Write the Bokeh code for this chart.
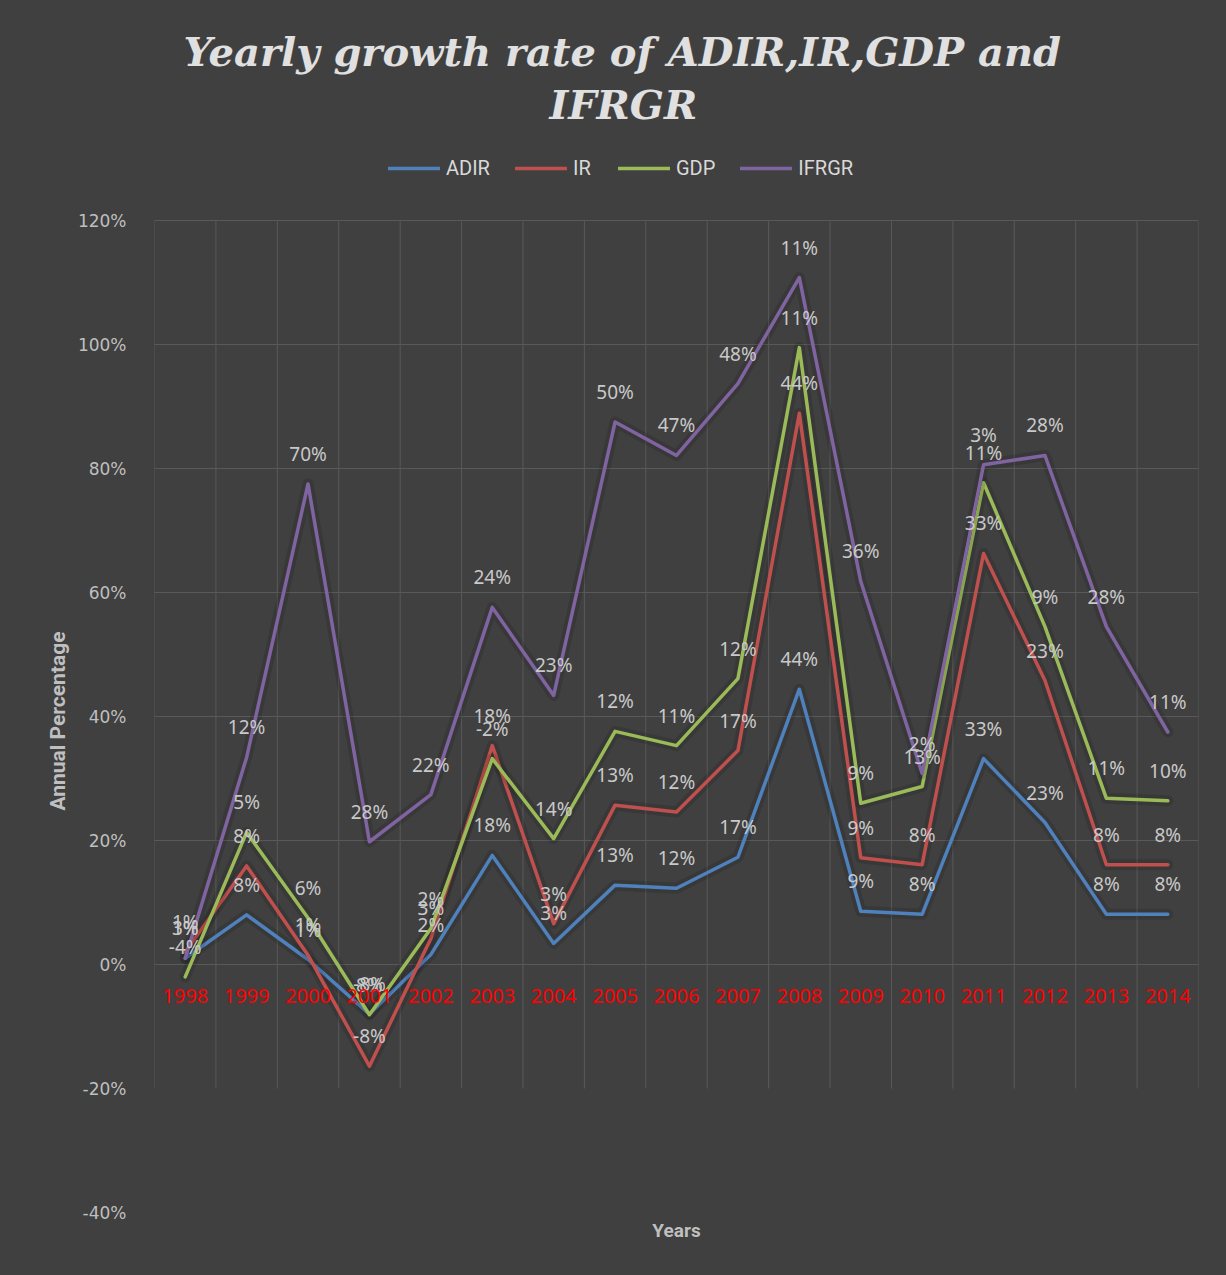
import numpy as np
from bokeh.plotting import figure
from bokeh.models import (Range1d, FixedTicker, PrintfTickFormatter, Legend,
                          LegendItem, Title, ColumnDataSource)
from bokeh.core.properties import value
from bokeh.embed import file_html
from bokeh.resources import INLINE

# ---------------- data (percent, individual series; chart stacks them) -------------
years = [str(y) for y in range(1998, 2015)]
adir = [1.0, 8.0, 0.8, -8.0, 1.6, 17.6, 3.4, 12.8, 12.3, 17.3, 44.4, 8.6, 8.1, 33.2, 22.9, 8.1, 8.1]
ir = [1.0, 7.9, 0.7, -8.4, 2.6, 17.7, 3.2, 12.9, 12.3, 17.2, 44.5, 8.6, 8.0, 33.1, 22.9, 8.0, 8.0]
gdp = [-4.0, 5.4, 6.0, 8.3, 1.6, -2.1, 13.7, 11.9, 10.7, 11.6, 10.6, 8.8, 12.6, 11.4, 8.7, 10.7, 10.3]
ifrgr = [3.0, 12.1, 70.0, 27.9, 21.6, 24.4, 23.1, 49.9, 46.8, 47.6, 11.3, 35.8, 2.1, 2.9, 27.6, 27.7, 11.1]
series_names = ["ADIR", "IR", "GDP", "IFRGR"]
series_values = [adir, ir, gdp, ifrgr]
colors = ["#4f81bd", "#c0504d", "#9bbb59", "#8064a2"]
y_ticks = [-40, -20, 0, 20, 40, 60, 80, 100, 120]
grid_ticks = [0, 20, 40, 60, 80, 100, 120]

BG = "#404040"
GRID = "#595959"

n = len(years)
xs = np.arange(n) + 0.5

# frame extends above 120% to hold the legend (no grid/outline up there)
Y_TOP = 120 + 90 / 6.2
p = figure(width=1226, height=1275, x_range=Range1d(0, n), y_range=Range1d(-40, Y_TOP),
           output_backend="svg", toolbar_location=None, title=None,
           min_border_left=154, min_border_right=28, min_border_bottom=63,
           min_border_top=130)
p.background_fill_color = BG
p.border_fill_color = BG
p.outline_line_color = None
p.styles = {"background-color": BG}

# grid
p.xgrid.visible = False
p.ygrid.ticker = FixedTicker(ticks=grid_ticks)
p.ygrid.grid_line_color = GRID
p.ygrid.grid_line_width = 1
bounds = list(range(n + 1))
p.segment(x0=bounds, y0=[-20] * len(bounds), x1=bounds, y1=[120] * len(bounds),
          line_color=GRID, line_width=1)

# axes
p.xaxis.visible = False
yax = p.yaxis[0]
yax.ticker = FixedTicker(ticks=y_ticks)
yax.formatter = PrintfTickFormatter(format="%d%%")
yax.axis_line_color = None
yax.major_tick_line_color = None
yax.minor_tick_line_color = None
yax.major_label_standoff = 22
yax.major_label_text_color = "#bfbfbf"
yax.major_label_text_font = "DejaVu Sans"
yax.major_label_text_font_size = "17px"

# stacked lines
cum = np.zeros(n)
renderers = []
stacked = []
for name, vals, col in zip(series_names, series_values, colors):
    cum = cum + np.array(vals)
    stacked.append(cum.copy())
    src = ColumnDataSource(dict(x=xs, y=cum.copy()))
    p.line("x", "y", source=src, line_color="black", line_alpha=0.12, line_width=11,
           line_join="round", line_cap="round")
    r = p.line("x", "y", source=src, line_color=col, line_width=3.5,
               line_join="round", line_cap="round")
    renderers.append(r)

# data labels (individual values, above each stacked point)
for vals, cy in zip(series_values, stacked):
    labels = ["%d%%" % int(np.round(v)) for v in vals]
    p.text(x=xs, y=cy, text=labels, text_align="center", text_baseline="middle",
           y_offset=-30, text_color="#c9c9c9", text_font=value("Noto Sans"),
           text_font_size="19px")

# category labels (red, along the zero line)
p.text(x=xs, y=[0] * n, text=years, text_align="center", text_baseline="middle",
       y_offset=31, text_color="#ff0000", text_font=value("Noto Sans"),
       text_font_size="20px")

# legend (screen px from the frame's bottom-left)
legend = Legend(items=[LegendItem(label=nm, renderers=[r]) for nm, r in zip(series_names, renderers)],
                orientation="horizontal", location=(234, 1032),
                background_fill_alpha=0, border_line_color=None,
                label_text_color="#d9d9d9", label_text_font="Roboto",
                label_text_font_size="20px", glyph_width=52, glyph_height=20,
                label_standoff=6, spacing=25, margin=0, padding=10, label_height=20)
p.add_layout(legend, "center")

# title (two lines)
t2 = Title(text="IFRGR", align="left", text_font="DejaVu Serif",
           text_font_style="bold italic", text_font_size="40px", text_color="#e0e0e0",
           standoff=6, offset=395)
t1 = Title(text="Yearly growth rate of ADIR,IR,GDP and", align="left",
           text_font="DejaVu Serif", text_font_style="bold italic",
           text_font_size="40px", text_color="#e0e0e0", standoff=2, offset=29)
p.add_layout(t2, "above")
p.add_layout(t1, "above")

# y axis title (left panel, positioned relative to the frame bottom)
ty = Title(text="Annual Percentage", align="left", text_font="Roboto",
           text_font_style="bold", text_font_size="21px", text_color="#bfbfbf",
           standoff=9, offset=402)
p.add_layout(ty, "left")

# x axis title
tx = Title(text="Years", align="center", text_font="Roboto", text_font_style="bold",
           text_font_size="19px", text_color="#bfbfbf", standoff=8)
p.add_layout(tx, "below")

open("out.html", "w").write(file_html(p, INLINE))
